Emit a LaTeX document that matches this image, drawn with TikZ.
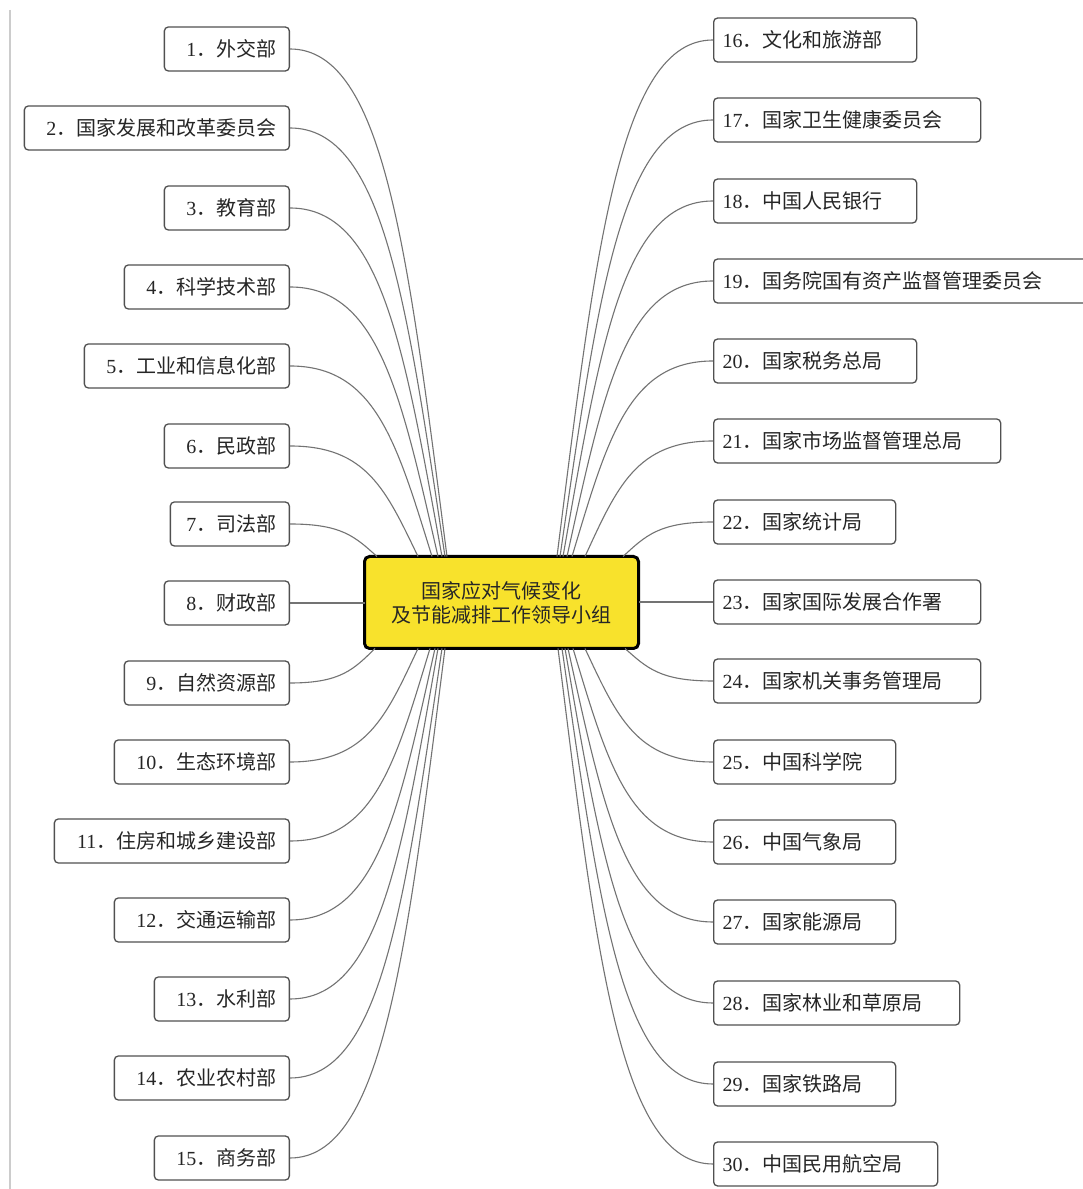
\documentclass[tikz,border=0pt]{standalone}
\usepackage{fontspec}
\setmainfont{Liberation Serif}
\newfontfamily\cjk{Noto Sans CJK SC}
\usetikzlibrary{calc}

\definecolor{leadfill}{RGB}{248,226,44}
\definecolor{boxline}{RGB}{80,80,80}
\definecolor{linkline}{RGB}{115,115,115}

\tikzset{
  dept/.style={draw=boxline, line width=1.3pt, rounded corners=4pt, minimum height=44pt,
    text=black!85, font=\fontsize{20}{24}\selectfont},
  deptL/.style={dept, anchor=east, inner xsep=13pt, align=right, text width=#1},
  deptR/.style={dept, anchor=west, inner xsep=9pt, align=left, text width=#1},
  lead/.style={draw=black, line width=3pt, fill=leadfill, rounded corners=5pt, outer sep=0pt,
    minimum width=274pt, minimum height=92pt, align=center, text=black!85,
    font=\fontsize{20}{24}\selectfont\cjk},
  link/.style={draw=linkline, line width=1.1pt},
  branch/.style={to path={let \p1=(\tikztostart), \p2=(\tikztotarget) in
    .. controls ({0.4*\x1+0.6*\x2},\y1) and ({0.25*\x1+0.75*\x2},{0.6*\y1+0.4*\y2}) .. (\p2)}}
}

\begin{document}
\begin{tikzpicture}[x=1pt,y=1pt]
\fill[white] (0,0) rectangle (1083,1189);
\useasboundingbox (0,0) rectangle (1083,1189);

%Straight Lines: left margin
\draw[black!20, line width=1.5pt] (10,1179) -- (10,0);

%Shape: leading group
\node[lead] (lead) at (501.5,586.5) {国家应对气候变化\\及节能减排工作领导小组};

% Text Node: left column
\node[deptL=99pt]  (d1)  at (290,1140) {1{\cjk ．外交部}};
\node[deptL=239pt] (d2)  at (290,1061) {2{\cjk ．国家发展和改革委员会}};
\node[deptL=99pt]  (d3)  at (290,981)  {3{\cjk ．教育部}};
\node[deptL=139pt] (d4)  at (290,902)  {4{\cjk ．科学技术部}};
\node[deptL=179pt] (d5)  at (290,823)  {5{\cjk ．工业和信息化部}};
\node[deptL=99pt]  (d6)  at (290,743)  {6{\cjk ．民政部}};
\node[deptL=93pt]  (d7)  at (290,665)  {7{\cjk ．司法部}};
\node[deptL=99pt]  (d8)  at (290,586)  {8{\cjk ．财政部}};
\node[deptL=139pt] (d9)  at (290,506)  {9{\cjk ．自然资源部}};
\node[deptL=149pt] (d10) at (290,427)  {10{\cjk ．生态环境部}};
\node[deptL=209pt] (d11) at (290,348)  {11{\cjk ．住房和城乡建设部}};
\node[deptL=149pt] (d12) at (290,269)  {12{\cjk ．交通运输部}};
\node[deptL=109pt] (d13) at (290,190)  {13{\cjk ．水利部}};
\node[deptL=149pt] (d14) at (290,111)  {14{\cjk ．农业农村部}};
\node[deptL=109pt] (d15) at (290,31)   {15{\cjk ．商务部}};

% Text Node: right column
\node[deptR=185pt] (d16) at (713,1149) {16{\cjk ．文化和旅游部}};
\node[deptR=249pt] (d17) at (713,1069) {17{\cjk ．国家卫生健康委员会}};
\node[deptR=185pt] (d18) at (713,988)  {18{\cjk ．中国人民银行}};
\node[deptR=366pt] (d19) at (713,908)  {19{\cjk ．国务院国有资产监督管理委员会}};
\node[deptR=185pt] (d20) at (713,828)  {20{\cjk ．国家税务总局}};
\node[deptR=269pt] (d21) at (713,748)  {21{\cjk ．国家市场监督管理总局}};
\node[deptR=164pt] (d22) at (713,667)  {22{\cjk ．国家统计局}};
\node[deptR=249pt] (d23) at (713,587)  {23{\cjk ．国家国际发展合作署}};
\node[deptR=249pt] (d24) at (713,508)  {24{\cjk ．国家机关事务管理局}};
\node[deptR=164pt] (d25) at (713,427)  {25{\cjk ．中国科学院}};
\node[deptR=164pt] (d26) at (713,347)  {26{\cjk ．中国气象局}};
\node[deptR=164pt] (d27) at (713,267)  {27{\cjk ．国家能源局}};
\node[deptR=228pt] (d28) at (713,186)  {28{\cjk ．国家林业和草原局}};
\node[deptR=164pt] (d29) at (713,105)  {29{\cjk ．国家铁路局}};
\node[deptR=206pt] (d30) at (713,25)   {30{\cjk ．中国民用航空局}};

%Curves: left column to leading group
\draw[link] (d1.east)  to[branch] ($(lead.north west)+(82.5,0)$);
\draw[link] (d2.east)  to[branch] ($(lead.north west)+(80.5,0)$);
\draw[link] (d3.east)  to[branch] ($(lead.north west)+(77.5,0)$);
\draw[link] (d4.east)  to[branch] ($(lead.north west)+(73.5,0)$);
\draw[link] (d5.east)  to[branch] ($(lead.north west)+(67.5,0)$);
\draw[link] (d6.east)  to[branch] ($(lead.north west)+(53.5,0)$);
\draw[link] (d7.east)  to[branch] ($(lead.north west)+(12.5,0)$);
\draw[link] (d8.east)  -- (d8.east -| lead.west);
\draw[link] (d9.east)  to[branch] ($(lead.south west)+(10.5,0)$);
\draw[link] (d10.east) to[branch] ($(lead.south west)+(53.5,0)$);
\draw[link] (d11.east) to[branch] ($(lead.south west)+(65.5,0)$);
\draw[link] (d12.east) to[branch] ($(lead.south west)+(70.5,0)$);
\draw[link] (d13.east) to[branch] ($(lead.south west)+(73.5,0)$);
\draw[link] (d14.east) to[branch] ($(lead.south west)+(77.5,0)$);
\draw[link] (d15.east) to[branch] ($(lead.south west)+(80.5,0)$);

%Curves: right column to leading group
\draw[link] (d16.west) to[branch] ($(lead.north east)+(-81.5,0)$);
\draw[link] (d17.west) to[branch] ($(lead.north east)+(-78.5,0)$);
\draw[link] (d18.west) to[branch] ($(lead.north east)+(-75.5,0)$);
\draw[link] (d19.west) to[branch] ($(lead.north east)+(-71.5,0)$);
\draw[link] (d20.west) to[branch] ($(lead.north east)+(-66.5,0)$);
\draw[link] (d21.west) to[branch] ($(lead.north east)+(-53.5,0)$);
\draw[link] (d22.west) to[branch] ($(lead.north east)+(-15.5,0)$);
\draw[link] (d23.west) -- (d23.west -| lead.east);
\draw[link] (d24.west) to[branch] ($(lead.south east)+(-13.5,0)$);
\draw[link] (d25.west) to[branch] ($(lead.south east)+(-53.5,0)$);
\draw[link] (d26.west) to[branch] ($(lead.south east)+(-65.5,0)$);
\draw[link] (d27.west) to[branch] ($(lead.south east)+(-70.5,0)$);
\draw[link] (d28.west) to[branch] ($(lead.south east)+(-73.5,0)$);
\draw[link] (d29.west) to[branch] ($(lead.south east)+(-76.5,0)$);
\draw[link] (d30.west) to[branch] ($(lead.south east)+(-80.5,0)$);

\end{tikzpicture}
\end{document}
